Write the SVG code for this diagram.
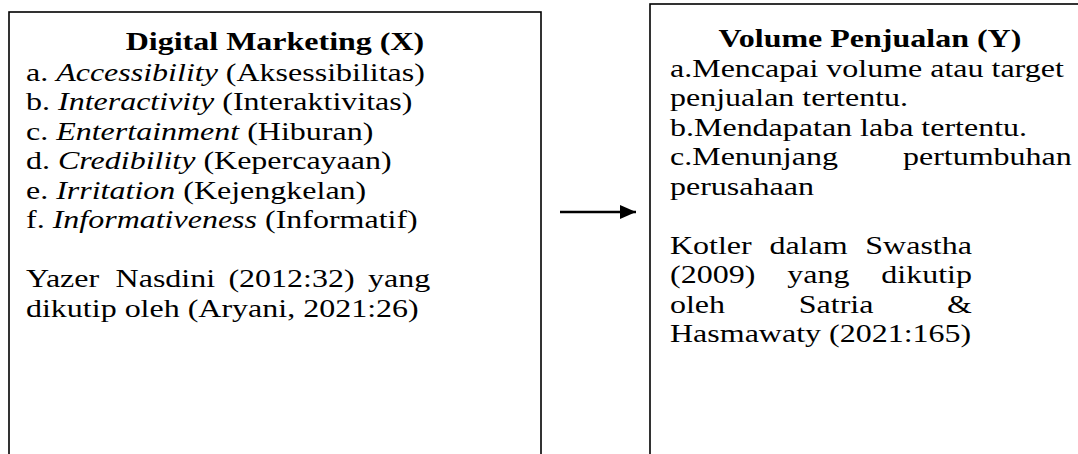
<svg xmlns="http://www.w3.org/2000/svg" width="1078" height="454" viewBox="0 0 1078 454">
<defs>
<style>
.box{fill:#fff;stroke:#000;stroke-width:1.6}
.t{font-family:"Liberation Serif","Times New Roman",serif;font-size:32px;fill:#000}
.b{font-weight:bold}
.i{font-style:italic}
.conn{stroke:#000;stroke-width:2.5;fill:none}
</style>
<marker id="ah" viewBox="0 0 16 14" refX="16" refY="7" markerWidth="16" markerHeight="14" markerUnits="userSpaceOnUse" orient="auto"><path d="M0,0 L16,7 L0,14 Z" fill="#000"/></marker>
</defs>
<rect width="1078" height="454" fill="#fff"/>
<g id="node-x">
<rect class="box" x="9" y="12" width="532" height="460"/>
<text class="t b" transform="matrix(1 0 0 0.8 0 50)" x="275" text-anchor="middle">Digital Marketing (X)</text>
<text class="t" transform="matrix(1 0 0 0.8 0 80.5)" x="26">a. <tspan class="i">Accessibility</tspan> (Aksessibilitas)</text>
<text class="t" transform="matrix(1 0 0 0.8 0 110)" x="26">b. <tspan class="i">Interactivity</tspan> (Interaktivitas)</text>
<text class="t" transform="matrix(1 0 0 0.8 0 139.5)" x="26">c. <tspan class="i">Entertainment</tspan> (Hiburan)</text>
<text class="t" transform="matrix(1 0 0 0.8 0 169)" x="26">d. <tspan class="i">Credibility</tspan> (Kepercayaan)</text>
<text class="t" transform="matrix(1 0 0 0.8 0 198.5)" x="26">e. <tspan class="i">Irritation</tspan> (Kejengkelan)</text>
<text class="t" transform="matrix(1 0 0 0.8 0 228)" x="26">f. <tspan class="i">Informativeness</tspan> (Informatif)</text>
<text class="t" transform="matrix(1 0 0 0.8 0 287)"><tspan x="26">Yazer</tspan><tspan x="115.6">Nasdini</tspan><tspan x="228.4">(2012:32)</tspan><tspan x="368">yang</tspan></text>
<text class="t" transform="matrix(1 0 0 0.8 0 316.5)" x="26">dikutip oleh (Aryani, 2021:26)</text>
</g>
<g id="node-y">
<rect class="box" x="650" y="4" width="460" height="470"/>
<text class="t b" transform="matrix(1 0 0 0.8 0 47)" x="870" text-anchor="middle">Volume Penjualan (Y)</text>
<text class="t" transform="matrix(1 0 0 0.8 0 76.5)" x="670">a.Mencapai volume atau target</text>
<text class="t" transform="matrix(1 0 0 0.8 0 106)" x="670">penjualan tertentu.</text>
<text class="t" transform="matrix(1 0 0 0.8 0 135.5)" x="670">b.Mendapatan laba tertentu.</text>
<text class="t" transform="matrix(1 0 0 0.8 0 165)"><tspan x="670">c.Menunjang</tspan><tspan x="903">pertumbuhan</tspan></text>
<text class="t" transform="matrix(1 0 0 0.8 0 194.5)" x="670">perusahaan</text>
<text class="t" transform="matrix(1 0 0 0.8 0 253.5)"><tspan x="670">Kotler</tspan><tspan x="769.4">dalam</tspan><tspan x="865.3">Swastha</tspan></text>
<text class="t" transform="matrix(1 0 0 0.8 0 283)"><tspan x="670">(2009)</tspan><tspan x="787.2">yang</tspan><tspan x="881.3">dikutip</tspan></text>
<text class="t" transform="matrix(1 0 0 0.8 0 312.5)"><tspan x="670">oleh</tspan><tspan x="798.8">Satria</tspan><tspan x="947.1">&amp;</tspan></text>
<text class="t" transform="matrix(1 0 0 0.8 0 342)" x="670">Hasmawaty (2021:165)</text>
</g>
<g id="connectors">
<line class="conn" x1="560" y1="212" x2="636" y2="212" marker-end="url(#ah)"/>
</g>
</svg>
